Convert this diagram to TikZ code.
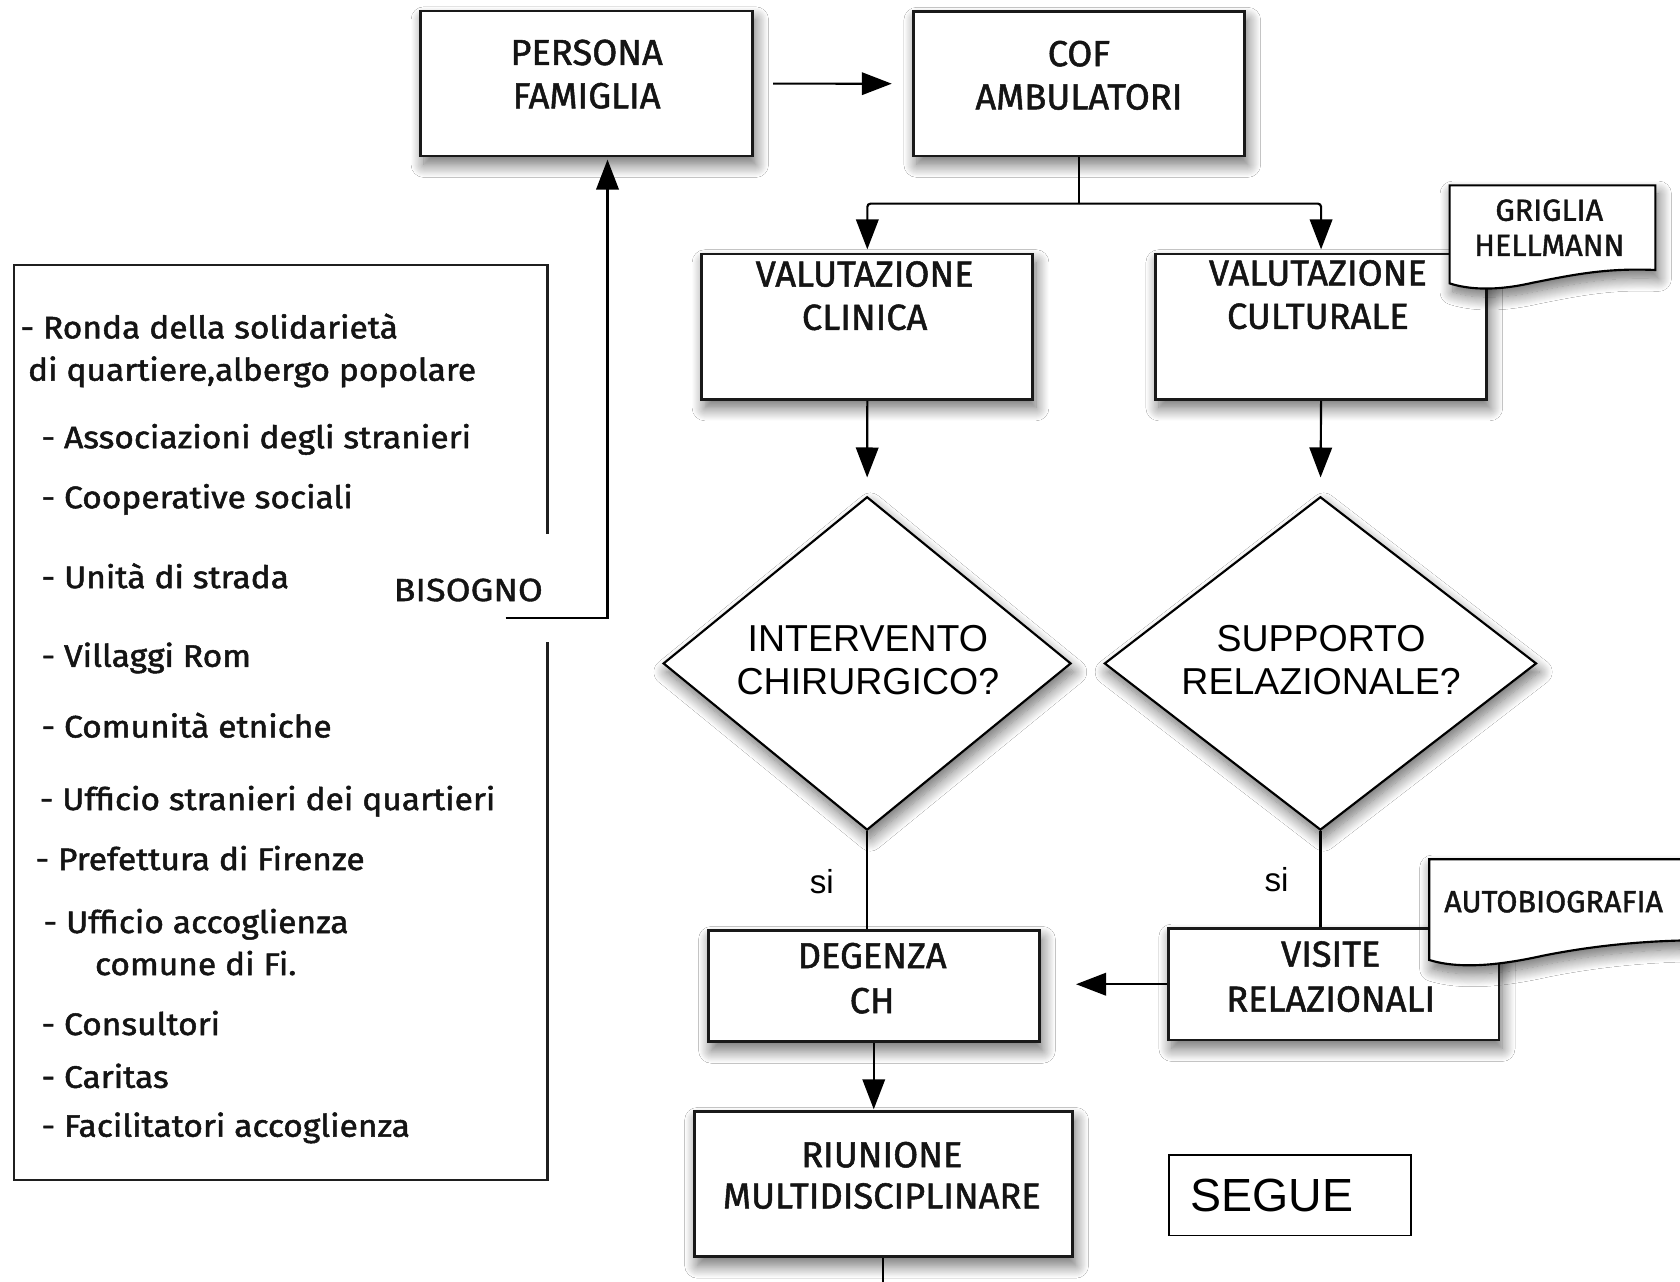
\documentclass[tikz,border=0pt]{standalone}
\usepackage{fontspec}
\usetikzlibrary{arrows.meta,shapes.geometric,shadows.blur,calc}
\newfontfamily\boxfont{Fira Sans}[FakeBold=1.4]
\newfontfamily\widefont{Fira Sans}[FakeBold=1.2, FakeStretch=1.12]
\newfontfamily\helv{Liberation Sans}
\newfontfamily\listfont{Fira Sans}[FakeBold=1.6, FakeStretch=1.08]

\tikzset{
  shade box/.style={blur shadow={shadow xshift=3pt, shadow yshift=-8pt,
      shadow blur radius=12pt, shadow blur steps=14, shadow opacity=58}},
  flowbox/.style={draw=black!90, line width=2.6pt, fill=white, inner sep=0pt, shade box},
  decision/.style={diamond, draw=black, line width=2pt, fill=white, inner sep=0pt, shade box},
  decisiontext/.style={font=\helv\fontsize{35}{40.5}\selectfont, align=center, inner sep=0pt},
  docshape/.style={draw=black, line width=2pt, fill=white, shade box},
  plainline/.style={draw=black, line width=2pt},
  arrowline/.style={plainline, -{Triangle[length=28pt,width=21pt]}},
  boxlabel/.style={font=\boxfont\fontsize{33.8}{40.4}\selectfont, align=center,
      inner sep=0pt, text=black!92},
  smalllabel/.style={font=\boxfont\fontsize{28.5}{32.7}\selectfont, align=center,
      inner sep=0pt, text=black!92},
  listitem/.style={font=\listfont\fontsize{29}{32}\selectfont, anchor=base west,
      inner sep=0pt, text=black!92},
  yesmark/.style={font=\helv\fontsize{31}{36}\selectfont, inner sep=0pt},
}

\begin{document}
\begin{tikzpicture}[x=1pt,y=-1pt]
\useasboundingbox (0,0) rectangle (1568,1196);
\fill[white] (0,0) rectangle (1568,1196);

% ---- flow boxes ----
\node[flowbox, minimum width=309.6pt, minimum height=135.3pt] (pf) at (547.5,78) {};
\node[flowbox, minimum width=309pt, minimum height=134.7pt] (cof) at (1007.1,78.2) {};
\node[flowbox, minimum width=309pt, minimum height=135.7pt] (vclin) at (809.5,304.9) {};
\node[flowbox, minimum width=309pt, minimum height=135.7pt] (vcult) at (1233,304.9) {};
\node[flowbox, minimum width=309pt, minimum height=103.7pt] (deg) at (815.5,920.5) {};
\node[flowbox, minimum width=308.4pt, minimum height=104.2pt] (vis) at (1244.8,918.6) {};
\node[flowbox, minimum width=353pt, minimum height=135.4pt] (riu) at (824.5,1105.3) {};

\node[boxlabel] (pft) at (547.5,69.2) {PERSONA\\FAMIGLIA};
\node[boxlabel] (coft) at (1007,70.3) {COF\\AMBULATORI};
\node[boxlabel] (vclint) at (807,276) {VALUTAZIONE\\CLINICA};
\node[boxlabel] (vcultt) at (1230,275) {VALUTAZIONE\\CULTURALE};
\node[boxlabel, font=\boxfont\fontsize{33.8}{42}\selectfont] (degt) at (814,913) {DEGENZA\\CH};
\node[boxlabel, font=\boxfont\fontsize{33.8}{42}\selectfont] (vist) at (1242,911.5) {VISITE\\RELAZIONALI};
\node[boxlabel, font=\boxfont\fontsize{33.8}{38.5}\selectfont] (riut) at (823,1097) {RIUNIONE\\MULTIDISCIPLINARE};

% ---- decisions ----
\node[decision, minimum width=380.7pt, minimum height=311.1pt] (d1) at (809.3,619.2) {};
\node[decisiontext] (d1t) at (810,615.8) {INTERVENTO\\CHIRURGICO?};
\node[decision, minimum width=403.3pt, minimum height=311.1pt] (d2) at (1232.4,619.2) {};
\node[decisiontext] (d2t) at (1233,615.8) {SUPPORTO\\RELAZIONALE?};

% ---- document notes ----
\draw[docshape] (1353,264.5) -- (1353,173) -- (1545,173) -- (1545,252)
  .. controls (1500,250) and (1470,256) .. (1430,264)
  .. controls (1395,272) and (1370,270) .. (1353,264.5) -- cycle;
\node[smalllabel] (grig) at (1446,212.4) {GRIGLIA\\HELLMANN};

\draw[docshape] (1334,896) -- (1334,802) -- (1620,802) -- (1620,878)
  .. controls (1560,876) and (1500,880) .. (1440,892)
  .. controls (1395,902) and (1360,904) .. (1334,896) -- cycle;
\node[smalllabel] (auto) at (1450,841.6) {AUTOBIOGRAFIA};

% ---- connectors ----
\draw[arrowline, shorten <=18pt, shorten >=19pt] (pf) -- (cof);
\draw[plainline] (cof.south) -- ++(0,43.2) coordinate (fork);
\draw[arrowline, rounded corners=3pt, shorten >=3pt] (fork) -| (vclin.north);
\draw[arrowline, rounded corners=3pt, shorten >=3pt] (fork) -| (vcult.north);
\draw[arrowline, shorten >=17pt] (vclin.south) -- (d1.north);
\draw[arrowline, shorten >=17pt] (vcult.south) -- (d2.north);
\draw[plainline] (d1.south) -- (d1.south |- deg.north);
\draw[plainline] (d2.south) -- (d2.south |- vis.north);
\draw[arrowline, shorten >=33pt] (vis.west) -- (vis.west -| deg.east);
\draw[arrowline, shorten >=1pt] (deg.south) -- (deg.south |- riu.north);
\draw[plainline] (riu.south) -- ++(0,40) coordinate (riuout);

\node[yesmark] (si1) at (767,823) {si};
\node[yesmark] (si2) at (1191.5,820.6) {si};

% ---- continuation box ----
\node[draw=black, line width=1.3pt, minimum width=226pt, minimum height=75pt, inner sep=0pt]
  (seg) at (1204,1115.5) {};
\node[font=\helv\fontsize{43.4}{50}\selectfont, anchor=west, inner sep=0pt] (segt)
  at (1111,1116) {SEGUE};

% ---- services list ----
\draw[plainline, draw=black!88] (511,498) -- (511,247) -- (12.9,247) -- (12.9,1101)
  -- (511,1101) -- (511,599);
\node[listitem] (l1) at (19,315.8) {- Ronda della solidarietà};
\node[listitem] (l2) at (26,355.3) {di quartiere,albergo popolare};
\node[listitem] (l3) at (38.7,418.3) {- Associazioni degli stranieri};
\node[listitem] (l4) at (38.7,474.3) {- Cooperative sociali};
\node[listitem] (l5) at (38.7,548.9) {- Unità di strada};
\node[listitem] (l6) at (38.7,622.3) {- Villaggi Rom};
\node[listitem] (l7) at (38.7,688.3) {- Comunità etniche};
\node[listitem] (l8) at (37,756) {- Ufficio stranieri dei quartieri};
\node[listitem] (l9) at (33,812) {- Prefettura di Firenze};
\node[listitem] (l10) at (40.6,870.8) {- Ufficio accoglienza};
\node[listitem] (l11) at (88.5,910) {comune di Fi.};
\node[listitem] (l12) at (38.7,966) {- Consultori};
\node[listitem] (l13) at (38.7,1015.3) {- Caritas};
\node[listitem] (l14) at (38.7,1060.9) {- Facilitatori accoglienza};

\node[smalllabel, font=\widefont\fontsize{30}{34}\selectfont] (need) at (437,550.7) {BISOGNO};
\coordinate (needstart) at (472,577);
\draw[arrowline, shorten >=2pt] (needstart) -| ([xshift=19.5pt]pf.south);
\end{tikzpicture}
\end{document}
